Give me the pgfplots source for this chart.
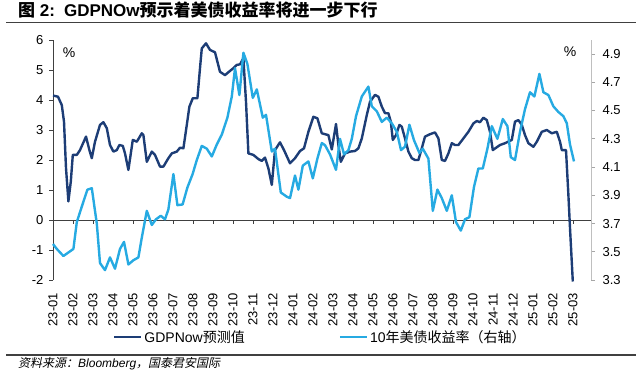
\documentclass[border=0pt]{standalone}
\usepackage{fontspec}
\setmainfont{Liberation Sans}
\newfontfamily\cjk{Noto Sans CJK SC}
\newfontfamily\cjkit[FakeSlant=0.2]{Noto Sans CJK SC}
\usepackage{pgfplots}
\usepackage{pgfplotstable}
\pgfplotsset{compat=1.18}
\definecolor{dk}{RGB}{29,61,118}
\definecolor{lt}{RGB}{38,170,226}
\definecolor{axg}{RGB}{64,64,64}

\pgfplotstableread{
m v
0.00 4.15
0.25 4.11
0.44 3.83
0.55 3.28
0.65 1.73
0.77 0.62
0.89 1.28
0.99 2.17
1.19 2.17
1.35 2.33
1.65 2.78
1.82 2.33
1.94 2.06
2.10 2.61
2.35 3.17
2.52 3.26
2.69 3.06
2.85 2.50
3.02 2.28
3.19 2.33
3.32 2.50
3.49 2.47
3.60 2.22
3.77 1.67
3.99 2.67
4.19 2.61
4.44 2.89
4.52 2.83
4.69 1.94
4.94 2.28
5.10 2.17
5.35 1.78
5.52 1.78
5.77 2.06
5.94 2.22
6.19 2.28
6.35 2.41
6.52 2.39
6.69 3.17
6.82 3.78
6.99 4.06
7.22 4.06
7.35 5.06
7.44 5.72
7.65 5.89
7.85 5.67
8.10 5.59
8.35 4.94
8.60 4.83
8.85 4.97
9.02 5.06
9.19 5.17
9.35 5.19
9.52 5.39
9.65 3.94
9.77 2.22
10.02 2.17
10.27 2.03
10.44 1.97
10.60 2.08
10.77 1.72
10.94 1.17
11.10 2.33
11.35 2.59
11.55 2.33
11.85 1.89
12.10 2.06
12.35 2.30
12.55 2.39
12.77 2.94
13.02 3.44
13.22 3.39
13.44 2.89
13.60 2.86
13.77 2.83
13.94 2.35
14.15 3.20
14.27 2.50
14.39 1.94
14.60 2.22
14.85 2.28
15.10 2.30
15.27 2.39
15.44 2.72
15.69 3.50
15.85 3.94
16.10 4.17
16.27 4.11
16.44 3.78
16.60 3.56
16.77 3.56
16.89 3.28
16.99 2.67
17.15 2.83
17.32 3.17
17.44 3.11
17.60 2.72
17.77 2.28
17.94 2.06
18.10 2.00
18.27 2.00
18.44 2.39
18.60 2.78
18.85 2.86
19.10 2.92
19.27 2.72
19.44 2.00
19.60 1.97
19.77 2.22
19.94 2.56
20.10 2.50
20.27 2.50
20.52 2.72
20.77 2.94
21.02 3.22
21.19 3.30
21.35 3.26
21.52 3.41
21.69 3.33
21.85 2.94
21.99 2.33
22.22 2.44
22.35 2.50
22.60 2.56
22.94 2.67
23.10 3.28
23.27 3.33
23.44 3.17
23.60 2.83
23.77 2.56
24.02 2.44
24.19 2.61
24.44 2.94
24.69 3.00
24.94 2.89
25.19 2.94
25.35 2.61
25.44 2.33
25.65 2.33
25.77 0.83
25.85 -0.27
25.99 -2.05
}\gdpnow

\pgfplotstableread{
m v
0.00 3.555
0.19 3.52
0.52 3.47
0.77 3.495
1.02 3.52
1.19 3.71
1.44 3.82
1.72 3.94
1.94 3.95
2.19 3.70
2.35 3.42
2.60 3.37
2.85 3.46
3.10 3.38
3.35 3.52
3.55 3.57
3.77 3.41
4.02 3.44
4.27 3.46
4.44 3.60
4.69 3.79
4.94 3.69
5.15 3.73
5.39 3.755
5.60 3.73
5.77 3.80
6.02 4.05
6.22 3.83
6.48 3.835
6.72 3.955
6.98 4.05
7.19 4.15
7.44 4.25
7.69 4.23
7.94 4.175
8.19 4.26
8.44 4.33
8.72 4.45
8.94 4.60
9.10 4.80
9.32 4.61
9.52 4.91
9.72 4.83
9.99 4.59
10.19 4.65
10.49 4.45
10.65 4.47
10.94 4.21
11.10 4.23
11.39 3.92
11.69 3.89
11.85 3.88
12.10 4.04
12.27 3.94
12.49 4.11
12.77 4.14
12.99 4.02
13.22 4.16
13.44 4.27
13.60 4.255
13.85 4.19
14.15 4.08
14.35 4.30
14.55 4.19
14.77 4.22
14.94 4.30
15.15 4.46
15.44 4.60
15.77 4.67
15.94 4.53
16.19 4.495
16.44 4.42
16.69 4.45
16.94 4.41
17.19 4.35
17.40 4.22
17.60 4.245
17.82 4.40
18.05 4.29
18.32 4.20
18.49 4.23
18.77 4.16
18.99 3.79
19.22 3.94
19.44 3.88
19.69 3.79
19.94 3.90
20.15 3.71
20.39 3.65
20.60 3.73
20.82 3.745
21.05 3.96
21.27 4.09
21.49 4.09
21.72 4.23
21.94 4.39
22.22 4.30
22.49 4.44
22.72 4.39
22.89 4.17
23.10 4.15
23.35 4.35
23.60 4.51
23.85 4.63
24.07 4.60
24.32 4.76
24.52 4.63
24.77 4.61
25.02 4.53
25.27 4.49
25.52 4.46
25.69 4.41
25.85 4.26
26.05 4.14
}\tenyr

\begin{document}
\begin{tikzpicture}
\useasboundingbox (0pt,0pt) rectangle (640pt,375pt);
% title
\node[anchor=base west, inner sep=0] at (18pt,358.5pt) {\fontsize{17}{17}\selectfont\bfseries{\cjk 图} 2:\hspace{9pt}GDPNOw{\cjk 预示着美债收益率将进一步下行}};
\draw[line width=1.1pt, color=axg] (6pt,352.3pt) -- (636pt,352.3pt);
% footer
\draw[line width=1.1pt, color=axg] (6pt,20pt) -- (636pt,20pt);
\node[anchor=base west, inner sep=0] at (18pt,7.5pt) {\fontsize{12}{12}\selectfont{\cjkit 资料来源：}\textit{Bloomberg}{\cjkit ，国泰君安国际}};
% percent signs
\node[font=\fontsize{14}{14}\selectfont] at (69pt,322pt) {\%};
\node[font=\fontsize{14}{14}\selectfont] at (570pt,323pt) {\%};

\begin{axis}[
  at={(53pt,95pt)}, anchor=south west, scale only axis,
  width=538pt, height=240pt,
  xmin=0, xmax=26.9, ymin=-2, ymax=6,
  axis x line*=bottom, axis y line*=left,
  x axis line style={draw=none},
  y axis line style={-, axg, line width=0.8pt},
  xtick={0,...,26},
  xticklabels={23-01,23-02,23-03,23-04,23-05,23-06,23-07,23-08,23-09,23-10,23-11,23-12,24-01,24-02,24-03,24-04,24-05,24-06,24-07,24-08,24-09,24-10,24-11,24-12,25-01,25-02,25-03},
  xticklabel style={rotate=90, anchor=east, font=\fontsize{13}{13}\selectfont, inner sep=0pt},
  xtick style={draw=none},
  xticklabel shift=9pt,
  ytick={-2,...,6},
  yticklabels={-2,-1,0,1,2,3,4,5,6},
  yticklabel style={font=\fontsize{13}{13}\selectfont},
  yticklabel shift=2pt,
  tick align=outside,
  major tick length=4pt,
  ytick style={axg, line width=0.8pt},
  clip=false,
]
\draw[axg, line width=0.8pt] (axis cs:0,0) -- (axis cs:26.9,0);
\pgfplotsinvokeforeach{0,...,26}{\draw[axg, line width=0.8pt] (axis cs:#1,0) -- ++(0pt,-4pt);}
\addplot[dk, line width=2.4pt, line join=round] table[x=m, y=v] {\gdpnow};
\end{axis}

\begin{axis}[
  at={(53pt,95pt)}, anchor=south west, scale only axis,
  width=538pt, height=240pt,
  xmin=0, xmax=26.9, ymin=3.3, ymax=5.0,
  axis x line=none, axis y line*=right,
  y axis line style={-, black!25, line width=0.8pt},
  ytick={3.3,3.5,3.7,3.9,4.1,4.3,4.5,4.7,4.9},
  yticklabels={3.3,3.5,3.7,3.9,4.1,4.3,4.5,4.7,4.9},
  yticklabel style={font=\fontsize{13}{13}\selectfont},
  yticklabel shift=4pt,
  tick align=outside,
  major tick length=4pt,
  ytick style={black!35, line width=0.8pt},
  legend style={at={(0.497,-0.2375)}, anchor=center, draw=none, fill=none,
    font=\fontsize{14}{14}\selectfont, legend columns=2,
    /tikz/every even column/.append style={column sep=92pt}},
  legend image code/.code={\draw[#1] (0pt,0pt) -- (27pt,0pt);},
  clip=false,
]
\addlegendimage{dk, line width=2.4pt}
\addlegendentry{GDPNow{\cjk 预测值}}
\addplot[lt, line width=2.4pt, line join=round] table[x=m, y=v] {\tenyr};
\addlegendentry{10{\cjk 年美债收益率（右轴）}}
\end{axis}
\end{tikzpicture}
\end{document}
